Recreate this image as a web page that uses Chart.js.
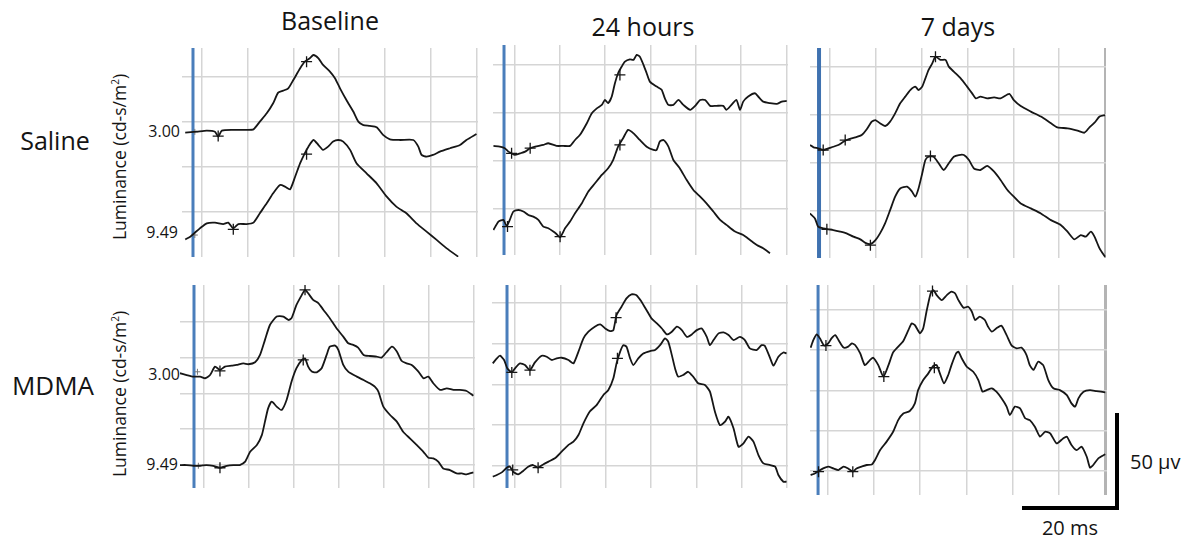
<!DOCTYPE html>
<html><head><meta charset="utf-8">
<script src="https://cdn.jsdelivr.net/npm/chart.js@4.4.1/dist/chart.umd.min.js"></script>
<style>
html,body{margin:0;padding:0;background:#fff}
body{width:1189px;height:540px;position:relative;overflow:hidden;font-family:"Open Sans",sans-serif;color:#141414}
.t{position:absolute;white-space:nowrap;line-height:1}
.bar{position:absolute;background:#000}
</style></head><body>

<div class="t" style="left:330px;top:20px;font-size:25px;transform:translate(-50%,-50%)">Baseline</div>
<div class="t" style="left:643px;top:26px;font-size:25px;transform:translate(-50%,-50%)">24 hours</div>
<div class="t" style="left:958px;top:26px;font-size:25px;transform:translate(-50%,-50%)">7 days</div>
<div class="t" style="left:55px;top:140px;font-size:25px;transform:translate(-50%,-50%)">Saline</div>
<div class="t" style="left:53px;top:385px;font-size:26px;transform:translate(-50%,-50%)">MDMA</div>
<div class="t" style="left:119px;top:157px;font-size:17.5px;transform:translate(-50%,-50%) rotate(-90deg)">Luminance (cd-s/m<sup style="font-size:10px">2</sup>)</div>
<div class="t" style="left:119px;top:394px;font-size:17.5px;transform:translate(-50%,-50%) rotate(-90deg)">Luminance (cd-s/m<sup style="font-size:10px">2</sup>)</div>
<div class="t" style="left:180px;top:131px;font-size:16px;transform:translate(-100%,-50%)">3.00</div>
<div class="t" style="left:178px;top:232px;font-size:16px;transform:translate(-100%,-50%)">9.49</div>
<div class="t" style="left:180px;top:374px;font-size:16px;transform:translate(-100%,-50%)">3.00</div>
<div class="t" style="left:178px;top:464px;font-size:16px;transform:translate(-100%,-50%)">9.49</div>
<div class="bar" style="left:1115px;top:413px;width:4px;height:97px"></div>
<div class="bar" style="left:1022px;top:506px;width:97px;height:4px"></div>
<div class="t" style="left:1130px;top:462px;font-size:20px;transform:translate(0,-50%)">50 µv</div>
<div class="t" style="left:1070px;top:528px;font-size:20px;transform:translate(-50%,-50%)">20 ms</div>

<script>
// ---- grid values (ms, µV) ----
const gridX = [0, 10, 20, 30, 40, 50, 60];
const gridYSaline = [0, 25, 50, 75];
const gridYMdma = [0, 20, 40, 60, 80];

// ---- Saline / Baseline ----
const salBaseTop = [[-3.6,43.9],[-1.1,44.4],[1.1,45.0],[2.9,44.4],[3.6,41.7],[4.4,45.0],[6.9,45.4],[9.8,45.4],[11.3,45.7],[12.7,50.0],[14.2,54.6],[15.6,60.2],[16.7,66.1],[17.8,67.2],[18.9,68.5],[20.0,73.1],[21.5,79.6],[22.5,83.3],[23.6,85.2],[24.4,87.0],[25.5,85.2],[26.5,81.5],[28.0,77.8],[29.1,74.1],[30.2,68.5],[31.6,62.0],[33.1,55.6],[34.2,50.0],[35.3,48.1],[36.7,47.6],[38.2,46.9],[39.6,42.6],[41.1,40.2],[43.3,39.8],[46.2,39.8],[47.3,36.1],[48.0,31.5],[49.1,30.6],[50.5,31.5],[52.0,33.3],[54.2,35.2],[56.4,37.0],[57.8,39.8],[60.0,43.1]];
const salBaseLow = [[-3.6,-15.4],[-2.5,-13.9],[-1.5,-11.7],[-0.4,-9.3],[1.1,-6.5],[2.9,-6.1],[4.7,-6.9],[5.8,-6.1],[6.9,-9.3],[8.0,-6.9],[9.8,-6.9],[11.3,-6.1],[12.7,-0.9],[14.2,4.6],[15.6,10.2],[17.1,14.8],[18.2,13.9],[19.3,12.4],[20.4,19.4],[21.5,26.9],[22.5,32.4],[23.3,36.1],[24.4,39.8],[25.5,37.0],[26.5,34.3],[27.6,36.1],[28.7,38.9],[29.8,39.8],[30.9,38.9],[32.4,34.3],[33.8,26.9],[36.0,21.3],[38.2,15.7],[40.4,8.3],[42.5,2.8],[44.7,-0.9],[46.9,-6.5],[49.1,-11.1],[51.3,-15.7],[53.5,-20.4],[56.0,-25.0]];
const salBaseMarks = [[3.6,42.0],[22.9,83.3],[6.9,-9.8],[22.9,31.9]];
const salBaseSmall = [[-1.5,44.3],[-1.5,-13.0]];

// ---- Saline / 24 hours ----
const sal24Top = [[-4.6,32.7],[-3.2,32.3],[-2.1,31.5],[-1.3,29.7],[-0.6,28.8],[0.1,28.0],[1.3,28.8],[2.4,29.7],[3.5,31.5],[4.6,32.3],[6.4,33.2],[7.5,34.1],[9.3,32.7],[10.8,32.7],[12.3,32.7],[13.4,35.8],[14.5,38.5],[16.0,44.6],[17.1,49.8],[18.2,52.4],[19.3,54.2],[20.0,56.8],[20.7,55.1],[21.5,58.6],[22.2,65.6],[22.9,70.8],[23.7,74.3],[24.4,76.9],[25.5,78.1],[26.3,77.8],[27.0,80.4],[27.7,79.5],[28.5,75.2],[29.2,70.8],[29.9,66.4],[31.4,63.8],[32.5,62.1],[33.2,57.7],[34.0,54.2],[35.1,54.2],[36.2,56.8],[37.3,54.2],[38.8,51.6],[39.9,53.7],[41.0,56.8],[42.1,56.8],[43.2,53.7],[44.6,53.7],[46.1,53.7],[46.8,51.6],[47.9,54.2],[49.0,56.8],[49.8,51.6],[50.5,55.9],[51.6,58.6],[53.1,60.3],[53.8,58.6],[54.9,55.9],[56.4,55.1],[57.9,54.7],[59.0,55.9],[60.1,56.3]];
const sal24Low = [[-4.6,-11.4],[-3.5,-7.0],[-2.4,-6.1],[-1.7,-9.3],[-1.0,-6.1],[-0.2,-1.7],[0.9,-0.9],[2.0,-1.7],[3.1,-3.5],[4.2,-4.4],[5.3,-6.1],[6.4,-9.6],[7.5,-10.5],[8.6,-12.2],[9.3,-13.5],[10.1,-15.2],[11.2,-10.5],[12.3,-7.0],[13.4,-2.6],[14.9,2.6],[16.3,8.7],[17.8,13.1],[19.3,17.5],[20.7,21.0],[21.8,25.3],[22.9,32.3],[24.0,36.7],[25.1,41.1],[26.3,39.3],[27.7,35.8],[29.2,32.3],[30.7,30.6],[31.4,30.6],[32.1,35.0],[32.9,35.8],[34.0,32.3],[35.1,25.3],[36.5,21.0],[38.0,14.9],[39.5,9.6],[41.0,6.1],[42.4,2.6],[43.9,-1.7],[45.4,-6.1],[46.8,-8.7],[48.7,-12.2],[50.5,-14.0],[52.0,-16.6],[53.5,-19.2],[54.9,-21.0],[56.4,-23.6]];
const sal24Marks = [[-0.6,28.8],[3.5,31.5],[23.3,69.9],[-1.5,-9.6],[10.1,-14.9],[23.3,33.2]];

// ---- Saline / 7 days ----
const sal7Top = [[-4.4,34.2],[-3.6,33.0],[-2.6,32.5],[-1.5,31.6],[-0.4,32.5],[0.7,33.3],[1.8,34.2],[2.9,35.9],[4.0,37.2],[5.5,38.2],[6.9,39.4],[8.0,42.4],[9.1,46.4],[9.9,47.2],[10.9,45.5],[12.0,44.1],[13.1,46.4],[14.2,50.7],[15.3,55.9],[16.4,59.4],[17.5,62.8],[18.6,64.6],[19.3,62.8],[20.1,64.6],[20.8,68.9],[21.5,73.3],[22.3,76.7],[23.0,80.2],[24.1,78.5],[25.2,78.5],[25.9,75.0],[27.0,72.4],[28.5,68.9],[29.9,64.6],[31.0,61.1],[31.8,58.5],[32.8,59.4],[34.3,58.5],[35.8,59.0],[37.2,58.5],[39.1,60.8],[40.1,57.6],[41.6,54.5],[43.8,51.6],[46.0,49.0],[48.2,45.5],[49.6,43.4],[51.8,42.9],[54.0,41.7],[55.5,40.6],[56.6,43.4],[57.7,45.8],[58.8,49.0],[60.0,49.8]];
const sal7Low = [[-4.4,-1.4],[-3.3,-4.0],[-2.6,-8.3],[-1.5,-9.2],[-0.4,-9.7],[0.7,-10.1],[2.2,-10.9],[3.6,-11.8],[5.1,-13.5],[6.6,-14.9],[7.7,-16.7],[8.8,-17.4],[9.9,-15.3],[10.9,-11.8],[12.0,-6.6],[13.1,0.3],[14.2,7.3],[15.3,11.6],[16.8,12.5],[17.9,9.9],[18.6,7.3],[19.3,11.6],[20.1,19.4],[20.8,26.4],[21.5,28.1],[22.6,28.1],[23.7,24.7],[24.8,21.2],[25.9,24.7],[27.0,28.1],[28.1,29.0],[29.2,29.0],[30.3,26.4],[31.4,22.0],[32.8,21.2],[34.3,23.3],[35.8,20.3],[37.2,16.0],[38.7,10.8],[40.1,7.3],[41.6,3.8],[43.8,1.2],[46.0,-1.4],[48.2,-4.9],[50.4,-7.5],[51.8,-10.9],[53.3,-14.9],[54.7,-12.7],[55.8,-13.5],[56.9,-10.9],[57.7,-13.5],[58.8,-19.6],[60.0,-24.0]];
const sal7Marks = [[-1.5,31.6],[3.3,36.8],[23.0,80.2],[-0.7,-9.7],[8.8,-17.9],[21.9,28.5]];

// ---- MDMA / Baseline ----
const mdBaseTop = [[-5.2,51.2],[-3.7,50.2],[-2.2,49.3],[-0.7,49.3],[0.4,48.4],[1.5,50.2],[2.6,54.9],[3.7,53.0],[4.8,54.9],[6.3,55.4],[7.4,55.8],[8.9,56.7],[10.0,56.2],[11.5,57.3],[12.6,61.4],[13.7,69.8],[14.8,78.1],[16.3,82.8],[17.8,82.8],[18.9,80.9],[19.6,81.9],[20.7,89.3],[21.9,94.9],[22.6,97.7],[23.3,95.8],[24.4,92.1],[25.6,90.2],[26.7,86.5],[28.1,81.9],[29.6,76.3],[31.1,71.6],[32.2,67.9],[33.3,67.0],[34.4,65.5],[35.6,61.4],[37.0,60.8],[38.5,60.5],[39.6,59.9],[40.7,62.9],[41.9,66.0],[43.0,63.3],[44.1,58.0],[45.2,56.7],[46.3,55.8],[47.8,52.1],[48.9,48.4],[50.0,49.3],[51.1,45.6],[52.6,41.9],[54.1,42.8],[55.6,41.9],[57.0,41.9],[58.5,41.3],[60.0,38.7]];
const mdBaseLow = [[-5.2,0],[-3.7,0],[-2.2,-0.4],[-0.7,-0.4],[0.7,0],[2.2,-0.4],[3.7,-1.5],[5.2,-0.4],[6.7,0],[8.1,0],[9.3,1.9],[10.4,7.4],[11.9,11.2],[13.0,16.7],[13.7,24.2],[14.4,31.6],[15.2,35.3],[16.3,32.6],[17.4,30.7],[18.5,36.3],[19.6,46.5],[20.7,54.0],[21.9,58.6],[22.6,59.5],[23.3,54.9],[24.1,52.1],[25.2,51.7],[26.3,54.0],[27.4,61.4],[28.1,66.0],[29.3,66.6],[30.0,64.2],[31.1,55.8],[32.2,52.1],[34.1,49.3],[35.6,47.4],[37.0,45.6],[38.1,43.7],[38.9,40.9],[40.0,32.6],[41.5,27.9],[43.0,24.2],[44.4,18.6],[45.9,14.9],[47.4,11.2],[48.9,7.4],[50.0,4.1],[51.1,3.7],[52.2,1.9],[53.3,-1.9],[54.8,-2.8],[56.3,-4.7],[57.4,-4.7],[58.5,-5.2],[60.0,-4.1]];
const mdBaseMarks = [[3.7,52.5],[22.6,97.7],[3.7,-1.5],[22.2,58.6]];
const mdBaseSmall = [[-1.3,52.0],[-1.1,-0.4]];

// ---- MDMA / 24 hours ----
const md24Top = [[-4.9,50.3],[-4.0,52.8],[-3.3,54.1],[-2.4,52.0],[-1.7,47.9],[-0.7,45.9],[0,47.9],[1.1,50.3],[2.2,49.5],[3.3,47.0],[4.4,50.8],[5.9,54.1],[7.0,53.6],[8.1,52.0],[9.2,52.8],[10.3,53.1],[11.8,52.0],[12.9,50.3],[14.0,56.1],[15.1,62.6],[16.2,65.9],[17.6,68.4],[18.8,69.5],[19.9,67.5],[21.0,66.2],[21.7,66.7],[22.4,74.1],[23.5,78.2],[24.6,82.3],[25.7,84.3],[26.8,83.9],[27.9,80.7],[29.0,76.6],[30.1,72.5],[31.3,70.0],[32.4,67.5],[33.5,64.6],[34.6,65.9],[35.7,68.4],[36.8,66.7],[37.9,63.4],[39.0,64.6],[40.1,66.7],[41.2,67.5],[42.3,63.4],[43.0,59.3],[43.8,61.8],[44.9,65.1],[46.0,65.6],[47.1,64.3],[48.2,61.8],[49.6,63.4],[50.7,61.8],[51.8,57.7],[53.3,56.9],[54.4,59.3],[55.1,59.0],[56.3,52.8],[57.0,49.2],[58.1,53.6],[59.2,55.7],[59.9,55.2]];
const md24Low = [[-4.9,-5.4],[-4.0,-4.6],[-2.9,-3.3],[-1.8,-1.0],[-1.1,-0.5],[-0.4,-3.0],[0.7,-4.3],[1.8,-2.6],[2.9,-0.5],[4.0,0.3],[5.1,-1.0],[6.3,0.7],[7.4,2.0],[8.8,3.6],[10.3,6.9],[11.8,10.2],[12.9,11.8],[14.0,15.1],[15.1,20.8],[16.5,26.6],[18.0,29.8],[19.5,34.8],[20.6,37.2],[21.7,43.0],[22.4,50.3],[23.2,56.1],[23.9,59.3],[24.6,58.5],[25.4,52.8],[26.1,49.5],[27.2,52.8],[28.3,55.2],[29.8,56.4],[30.9,56.9],[32.0,59.3],[33.1,62.6],[33.8,61.0],[34.6,54.4],[35.3,47.9],[36.0,43.8],[37.1,44.6],[38.2,46.2],[39.3,43.8],[40.4,40.5],[41.9,39.7],[43.0,36.4],[44.1,26.6],[45.2,20.0],[46.3,21.6],[47.1,24.1],[48.2,18.4],[49.3,9.3],[50.4,11.0],[51.5,14.3],[52.6,11.8],[53.7,5.2],[54.8,1.1],[56.3,0.3],[57.4,-0.5],[58.1,-4.6],[59.2,-7.9],[59.9,-7.9]];
const md24Marks = [[-0.7,45.9],[3.3,47.0],[22.3,72.8],[-0.5,-2.1],[5.1,-1.0],[22.6,52.8]];

// ---- MDMA / 7 days ----
const md7Top = [[-3.6,61.3],[-3.0,65.1],[-2.3,67.9],[-1.6,65.9],[-0.7,62.3],[0.2,63.4],[0.9,65.9],[1.7,67.5],[2.4,65.1],[3.5,61.3],[4.5,61.8],[5.3,63.4],[6.0,62.6],[7.1,58.4],[8.1,52.6],[9.2,55.1],[9.9,56.3],[11.0,52.6],[12.1,46.9],[13.2,52.6],[14.2,58.9],[15.3,61.8],[16.4,64.6],[17.5,70.0],[18.2,73.3],[18.9,72.5],[20.0,68.4],[20.7,70.9],[21.4,79.1],[22.3,88.2],[22.9,89.9],[23.6,87.4],[24.7,84.9],[25.8,87.4],[26.8,89.1],[27.6,88.2],[28.3,84.9],[29.4,81.1],[30.4,81.6],[31.2,79.1],[31.9,75.0],[32.9,76.7],[34.0,75.0],[34.7,71.7],[35.5,69.2],[36.5,70.9],[37.6,72.2],[38.7,67.5],[39.8,62.3],[40.9,60.9],[41.9,61.3],[43.0,57.6],[43.7,52.6],[44.5,50.2],[45.5,54.3],[46.6,52.6],[47.7,45.2],[48.8,41.1],[50.2,40.2],[51.7,37.7],[52.7,33.6],[53.5,32.0],[54.2,36.1],[55.3,39.4],[56.7,40.2],[58.1,39.7],[60.0,39.1]];
const md7Low = [[-3.6,-2.0],[-2.7,-1.2],[-1.9,0],[-0.9,1.3],[0.2,2.2],[1.3,1.3],[2.4,0.5],[3.5,2.2],[4.5,1.3],[5.5,-0.3],[6.3,1.3],[7.4,2.2],[8.5,3.0],[9.6,3.3],[10.3,5.5],[11.4,10.4],[12.8,14.6],[14.2,19.5],[15.3,25.3],[16.4,28.6],[17.8,29.8],[18.9,33.6],[19.6,40.2],[20.7,45.2],[21.8,48.5],[22.9,52.3],[23.6,52.6],[24.3,48.5],[25.2,43.5],[26.1,47.7],[26.8,52.6],[27.8,58.4],[28.3,59.3],[29.0,56.0],[30.1,51.8],[31.5,49.3],[32.6,45.2],[33.5,39.4],[34.4,40.2],[35.5,41.1],[36.5,39.4],[37.6,36.1],[38.7,32.0],[39.4,27.8],[40.5,32.0],[41.6,31.1],[42.7,26.2],[43.7,25.3],[44.8,22.0],[45.9,17.1],[47.0,19.5],[48.1,18.7],[49.5,13.7],[50.9,16.2],[51.7,17.1],[52.7,12.9],[53.8,10.4],[54.9,12.1],[56.0,7.1],[56.7,1.7],[57.4,3.0],[58.5,6.3],[60.0,8.3]];
const md7Marks = [[-0.3,62.3],[12.2,46.9],[22.7,89.4],[-1.9,-0.3],[5.5,-0.3],[23.1,51.3]];

// stimulus onset marker (ms) per panel
const stimSalBase = -1.9, stimSal24 = -2.27, stimSal7 = -2.41;
const stimMdBase = -2.07, stimMd24 = -1.76, stimMd7 = -2.0;

// ---- layout (pixels) and axis windows ----
const panels = [
  {rect:[182,48,296,209], x:[-4.30,60.33], y:[-25.2,90.9], gy:gridYSaline, stim:stimSalBase, traces:[salBaseTop,salBaseLow], marks:salBaseMarks, small:salBaseSmall, edge:false, bw:3, bc:'#4a7ebb'},
  {rect:[493,45,295,210], x:[-4.70,60.38], y:[-24.5,85.6], gy:gridYSaline, stim:stimSal24, traces:[sal24Top,sal24Low], marks:sal24Marks, small:null, edge:false, bw:3, bc:'#4a7ebb'},
  {rect:[810,48,296,210], x:[-4.38,60.21], y:[-24.6,84.7], gy:gridYSaline, stim:stimSal7, traces:[sal7Top,sal7Low], marks:sal7Marks, small:null, edge:true, bw:4, bc:'#3f72b0'},
  {rect:[180,285,295,203], x:[-5.18,60.37], y:[-12.8,100.4], gy:gridYMdma, stim:stimMdBase, traces:[mdBaseTop,mdBaseLow], marks:mdBaseMarks, small:mdBaseSmall, edge:false, bw:3, bc:'#4a7ebb'},
  {rect:[492,285,296,203], x:[-5.07,60.22], y:[-11.0,88.9], gy:gridYMdma, stim:stimMd24, traces:[md24Top,md24Low], marks:md24Marks, small:null, edge:false, bw:3, bc:'#4a7ebb'},
  {rect:[810,285,297,210], x:[-3.74,60.37], y:[-11.9,92.4], gy:gridYMdma, stim:stimMd7, traces:[md7Top,md7Low], marks:md7Marks, small:null, edge:true, bw:3, bc:'#4a7ebb'}
];

const toPts = a => a.map(p => ({x:p[0], y:p[1]}));

panels.forEach(cfg => {
  const cv = document.createElement('canvas');
  cv.width = cfg.rect[2]; cv.height = cfg.rect[3];
  cv.style.cssText = `position:absolute;left:${cfg.rect[0]}px;top:${cfg.rect[1]}px;width:${cfg.rect[2]}px;height:${cfg.rect[3]}px`;
  document.body.appendChild(cv);
  const ds = [];
  cfg.traces.forEach(tr => ds.push({data:toPts(tr), borderColor:'#161616', borderWidth:1.8, pointRadius:0, tension:0.2, fill:false}));
  ds.push({data:toPts(cfg.marks), showLine:false, pointStyle:'cross', pointRadius:5.5, borderColor:'#161616', borderWidth:1.3});
  if (cfg.small) ds.push({data:toPts(cfg.small), showLine:false, pointStyle:'cross', pointRadius:3, borderColor:'#777', borderWidth:1});
  ds.push({data:[{x:cfg.stim,y:cfg.y[0]},{x:cfg.stim,y:cfg.y[1]}], borderColor:cfg.bc, borderWidth:cfg.bw, pointRadius:0, tension:0});
  new Chart(cv, {
    type:'line',
    data:{datasets:ds},
    options:{
      responsive:false, animation:false, devicePixelRatio:1, events:[],
      layout:{padding:0, autoPadding:false},
      plugins:{legend:{display:false}, tooltip:{enabled:false}, title:{display:false}},
      scales:{
        x:{type:'linear', min:cfg.x[0], max:cfg.x[1],
           ticks:{display:false}, border:{display:false},
           grid:{drawTicks:false,
                 color:c => (cfg.edge && c.tick && c.tick.value===60) ? '#b4b4b4' : '#d5d5d5',
                 lineWidth:c => (cfg.edge && c.tick && c.tick.value===60) ? 3 : 1.5},
           afterBuildTicks:s => { s.ticks = gridX.map(v => ({value:v})); }},
        y:{type:'linear', min:cfg.y[0], max:cfg.y[1],
           ticks:{display:false}, border:{display:false},
           grid:{drawTicks:false, color:'#d5d5d5', lineWidth:1.5},
           afterBuildTicks:s => { s.ticks = cfg.gy.map(v => ({value:v})); }}
      }
    }
  });
});
</script>
</body></html>
